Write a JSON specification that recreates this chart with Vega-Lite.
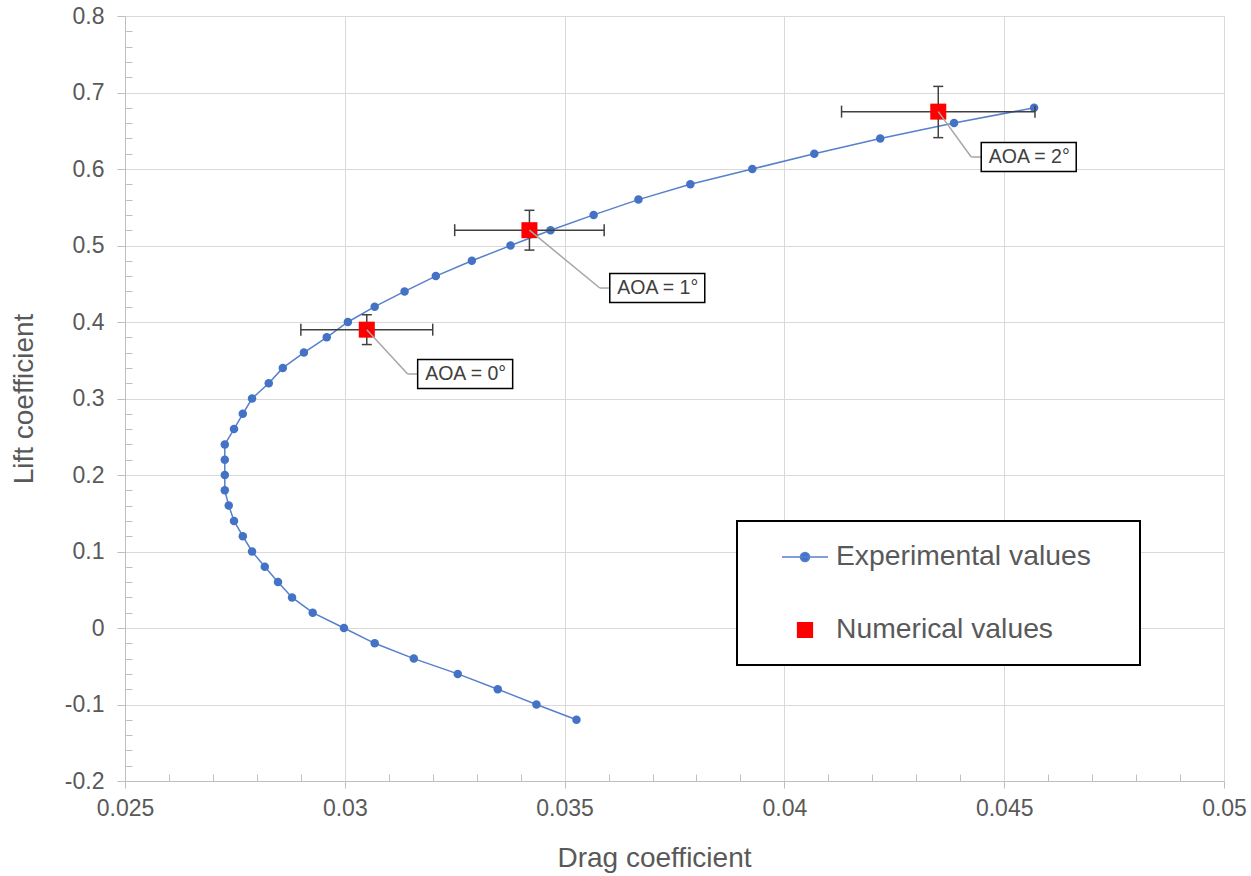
{
  "$schema": "https://vega.github.io/schema/vega-lite/v6.json",
  "width": 1099,
  "height": 765,
  "autosize": {"type": "none"},
  "padding": {"left": 125, "top": 16, "right": 27, "bottom": 95},
  "background": "white",
  "config": {
    "view": {"stroke": null},
    "font": "Liberation Sans",
    "legend": {
      "labelFont": "Liberation Sans",
      "labelFontSize": 28.3,
      "labelColor": "#595959",
      "labelLimit": 500,
      "symbolSize": 784,
      "symbolStrokeWidth": 1.5,
      "symbolOpacity": 1,
      "symbolOffset": 32,
      "labelOffset": 16,
      "rowPadding": 44,
      "padding": 21,
      "strokeColor": "black",
      "fillColor": "white"
    }
  },
  "datasets": {
    "exp": [
      {"series": "Experimental values", "cd": 0.03527, "cl": -0.12},
      {"series": "Experimental values", "cd": 0.03436, "cl": -0.10},
      {"series": "Experimental values", "cd": 0.03348, "cl": -0.08},
      {"series": "Experimental values", "cd": 0.03257, "cl": -0.06},
      {"series": "Experimental values", "cd": 0.03157, "cl": -0.04},
      {"series": "Experimental values", "cd": 0.03068, "cl": -0.02},
      {"series": "Experimental values", "cd": 0.02998, "cl": 0.00},
      {"series": "Experimental values", "cd": 0.02927, "cl": 0.02},
      {"series": "Experimental values", "cd": 0.02880, "cl": 0.04},
      {"series": "Experimental values", "cd": 0.02848, "cl": 0.06},
      {"series": "Experimental values", "cd": 0.02818, "cl": 0.08},
      {"series": "Experimental values", "cd": 0.02789, "cl": 0.10},
      {"series": "Experimental values", "cd": 0.02768, "cl": 0.12},
      {"series": "Experimental values", "cd": 0.02748, "cl": 0.14},
      {"series": "Experimental values", "cd": 0.02736, "cl": 0.16},
      {"series": "Experimental values", "cd": 0.02727, "cl": 0.18},
      {"series": "Experimental values", "cd": 0.02727, "cl": 0.20},
      {"series": "Experimental values", "cd": 0.02727, "cl": 0.22},
      {"series": "Experimental values", "cd": 0.02727, "cl": 0.24},
      {"series": "Experimental values", "cd": 0.02748, "cl": 0.26},
      {"series": "Experimental values", "cd": 0.02768, "cl": 0.28},
      {"series": "Experimental values", "cd": 0.02789, "cl": 0.30},
      {"series": "Experimental values", "cd": 0.02827, "cl": 0.32},
      {"series": "Experimental values", "cd": 0.02859, "cl": 0.34},
      {"series": "Experimental values", "cd": 0.02907, "cl": 0.36},
      {"series": "Experimental values", "cd": 0.02959, "cl": 0.38},
      {"series": "Experimental values", "cd": 0.03007, "cl": 0.40},
      {"series": "Experimental values", "cd": 0.03068, "cl": 0.42},
      {"series": "Experimental values", "cd": 0.03136, "cl": 0.44},
      {"series": "Experimental values", "cd": 0.03207, "cl": 0.46},
      {"series": "Experimental values", "cd": 0.03289, "cl": 0.48},
      {"series": "Experimental values", "cd": 0.03377, "cl": 0.50},
      {"series": "Experimental values", "cd": 0.03468, "cl": 0.52},
      {"series": "Experimental values", "cd": 0.03566, "cl": 0.54},
      {"series": "Experimental values", "cd": 0.03668, "cl": 0.56},
      {"series": "Experimental values", "cd": 0.03786, "cl": 0.58},
      {"series": "Experimental values", "cd": 0.03927, "cl": 0.60},
      {"series": "Experimental values", "cd": 0.04068, "cl": 0.62},
      {"series": "Experimental values", "cd": 0.04218, "cl": 0.64},
      {"series": "Experimental values", "cd": 0.04386, "cl": 0.66},
      {"series": "Experimental values", "cd": 0.04568, "cl": 0.68}
    ],
    "num": [
      {"series": "Numerical values", "cd": 0.0305, "cl": 0.39, "xlo": 0.0290, "xhi": 0.0320, "ylo": 0.3705, "yhi": 0.4095, "label": "AOA = 0°", "bx": 0.03143, "by": 0.332},
      {"series": "Numerical values", "cd": 0.0342, "cl": 0.52, "xlo": 0.0325, "xhi": 0.0359, "ylo": 0.494, "yhi": 0.546, "label": "AOA = 1°", "bx": 0.03580, "by": 0.4444},
      {"series": "Numerical values", "cd": 0.0435, "cl": 0.675, "xlo": 0.0413, "xhi": 0.0457, "ylo": 0.641, "yhi": 0.708, "label": "AOA = 2°", "bx": 0.04425, "by": 0.6157}
    ]
  },
  "layer": [
    {
      "data": {"name": "exp"},
      "mark": {"type": "line", "color": "#5580cc", "strokeWidth": 1.5},
      "encoding": {
        "x": {
          "field": "cd", "type": "quantitative",
          "scale": {"domain": [0.025, 0.05], "nice": false, "zero": false},
          "axis": {
            "orient": "bottom",
            "values": [0.025, 0.03, 0.035, 0.04, 0.045, 0.05],
            "labelExpr": "toString(round(datum.value*1000)/1000)",
            "grid": true, "gridColor": "#d9d9d9", "gridWidth": 1,
            "domainColor": "#bfbfbf", "tickColor": "#bfbfbf", "tickSize": 7,
            "labelFontSize": 23, "labelColor": "#595959", "labelPadding": 9,
            "labelFlush": false, "labelOverlap": false,
            "title": "Drag coefficient", "titleFontSize": 28, "titleFontWeight": "normal",
            "titleColor": "#595959", "titlePadding": 24, "titleX": 529
          }
        },
        "y": {
          "field": "cl", "type": "quantitative",
          "scale": {"domain": [-0.2, 0.8], "nice": false, "zero": false},
          "axis": {
            "orient": "left",
            "values": [-0.2, -0.1, 0, 0.1, 0.2, 0.3, 0.4, 0.5, 0.6, 0.7, 0.8],
            "labelExpr": "toString(round(datum.value*10)/10)",
            "grid": true, "gridColor": "#d9d9d9", "gridWidth": 1,
            "domainColor": "#bfbfbf", "tickColor": "#bfbfbf", "tickSize": 8,
            "labelFontSize": 23, "labelColor": "#595959", "labelPadding": 13,
            "labelFlush": false, "labelOverlap": false,
            "title": "Lift coefficient", "titleFontSize": 28, "titleFontWeight": "normal",
            "titleColor": "#595959", "titlePadding": 26
          }
        },
        "order": {"field": "cl", "type": "quantitative"}
      }
    },
    {
      "data": {"name": "exp"},
      "mark": {"type": "point", "filled": true, "shape": "circle", "size": 72, "opacity": 1},
      "encoding": {
        "x": {
          "field": "cd", "type": "quantitative",
          "axis": {
            "orient": "bottom",
            "values": [0.026, 0.027, 0.028, 0.029, 0.031, 0.032, 0.033, 0.034, 0.036, 0.037, 0.038, 0.039, 0.041, 0.042, 0.043, 0.044, 0.046, 0.047, 0.048, 0.049],
            "labels": false, "domain": false, "grid": false, "ticks": true,
            "tickSize": -7, "tickColor": "#bfbfbf", "title": null
          }
        },
        "y": {
          "field": "cl", "type": "quantitative",
          "axis": {
            "orient": "left",
            "values": [-0.18, -0.16, -0.14, -0.12, -0.08, -0.06, -0.04, -0.02, 0.02, 0.04, 0.06, 0.08, 0.12, 0.14, 0.16, 0.18, 0.22, 0.24, 0.26, 0.28, 0.32, 0.34, 0.36, 0.38, 0.42, 0.44, 0.46, 0.48, 0.52, 0.54, 0.56, 0.58, 0.62, 0.64, 0.66, 0.68, 0.72, 0.74, 0.76, 0.78],
            "labels": false, "domain": false, "grid": false, "ticks": true,
            "tickSize": -7, "tickColor": "#bfbfbf", "title": null
          }
        },
        "color": {
          "field": "series", "type": "nominal",
          "scale": {"domain": ["Experimental values", "Numerical values"], "range": ["#4472C4", "#FF0000"]},
          "legend": {
            "title": null,
            "orient": "none",
            "legendX": 612,
            "legendY": 505,
            "direction": "vertical",
            "encode": {
              "symbols": {
                "update": {
                  "shape": {"signal": "datum.value === 'Experimental values' ? 'M-3.357,0M22.16,0M-1.643,0H1.643M0.329,0A0.329,0.329,0,1,1,-0.329,0A0.329,0.329,0,1,1,0.329,0Z' : 'M-0.526,-0.526H0.526V0.526H-0.526Z'"},
                  "fill": {"signal": "datum.value === 'Experimental values' ? '#4472C4' : '#FF0000'"},
                  "stroke": {"signal": "datum.value === 'Experimental values' ? '#5580cc' : '#FF0000'"},
                  "strokeWidth": {"value": 1.5},
                  "opacity": {"value": 1}
                }
              },
              "legend": {"update": {"strokeWidth": {"value": 2}}}
            }
          }
        }
      }
    },
    {
      "data": {"name": "num"},
      "mark": {"type": "rule", "color": "#404040", "strokeWidth": 1.5},
      "encoding": {
        "x": {"field": "xlo", "type": "quantitative", "axis": null},
        "x2": {"field": "xhi"},
        "y": {"field": "cl", "type": "quantitative", "axis": null}
      }
    },
    {
      "data": {"name": "num"},
      "mark": {"type": "rule", "color": "#404040", "strokeWidth": 1.5},
      "encoding": {
        "x": {"field": "cd", "type": "quantitative", "axis": null},
        "y": {"field": "ylo", "type": "quantitative", "axis": null},
        "y2": {"field": "yhi"}
      }
    },
    {
      "data": {"name": "num"},
      "mark": {"type": "tick", "orient": "vertical", "color": "#404040", "size": 12, "thickness": 1.5, "opacity": 1},
      "encoding": {
        "x": {"field": "xlo", "type": "quantitative", "axis": null},
        "y": {"field": "cl", "type": "quantitative", "axis": null}
      }
    },
    {
      "data": {"name": "num"},
      "mark": {"type": "tick", "orient": "vertical", "color": "#404040", "size": 12, "thickness": 1.5, "opacity": 1},
      "encoding": {
        "x": {"field": "xhi", "type": "quantitative", "axis": null},
        "y": {"field": "cl", "type": "quantitative", "axis": null}
      }
    },
    {
      "data": {"name": "num"},
      "mark": {"type": "tick", "orient": "horizontal", "color": "#404040", "size": 10, "thickness": 1.5, "opacity": 1},
      "encoding": {
        "x": {"field": "cd", "type": "quantitative", "axis": null},
        "y": {"field": "ylo", "type": "quantitative", "axis": null}
      }
    },
    {
      "data": {"name": "num"},
      "mark": {"type": "tick", "orient": "horizontal", "color": "#404040", "size": 10, "thickness": 1.5, "opacity": 1},
      "encoding": {
        "x": {"field": "cd", "type": "quantitative", "axis": null},
        "y": {"field": "yhi", "type": "quantitative", "axis": null}
      }
    },
    {
      "data": {"name": "num"},
      "mark": {"type": "point", "filled": true, "shape": "square", "size": 256, "opacity": 1},
      "encoding": {
        "x": {"field": "cd", "type": "quantitative", "axis": null},
        "y": {"field": "cl", "type": "quantitative", "axis": null},
        "color": {"field": "series", "type": "nominal"}
      }
    },
    {
      "data": {"name": "num"},
      "mark": {"type": "rule", "color": "#a6a6a6", "strokeWidth": 1.5},
      "encoding": {
        "x": {"field": "cd", "type": "quantitative", "axis": null},
        "y": {"field": "cl", "type": "quantitative", "axis": null},
        "x2": {"field": "bx"},
        "y2": {"field": "by"}
      }
    },
    {
      "data": {"name": "num"},
      "mark": {"type": "point", "shape": "M0,0H0.2", "size": 10000, "filled": false, "stroke": "#a6a6a6", "strokeWidth": 1.5, "opacity": 1},
      "encoding": {
        "x": {"field": "bx", "type": "quantitative", "axis": null},
        "y": {"field": "by", "type": "quantitative", "axis": null}
      }
    },
    {
      "data": {"name": "num"},
      "mark": {"type": "point", "shape": "M0.2,-0.29H2.1V0.29H0.2Z", "size": 10000, "filled": true, "fill": "white", "stroke": "black", "strokeWidth": 1.5, "opacity": 1},
      "encoding": {
        "x": {"field": "bx", "type": "quantitative", "axis": null},
        "y": {"field": "by", "type": "quantitative", "axis": null}
      }
    },
    {
      "data": {"name": "num"},
      "mark": {"type": "text", "dx": 58, "align": "center", "baseline": "middle", "fontSize": 19.5, "color": "#404040", "font": "Liberation Sans"},
      "encoding": {
        "x": {"field": "bx", "type": "quantitative", "axis": null},
        "y": {"field": "by", "type": "quantitative", "axis": null},
        "text": {"field": "label", "type": "nominal"}
      }
    }
  ],
  "resolve": {"axis": {"x": "independent", "y": "independent"}}
}
